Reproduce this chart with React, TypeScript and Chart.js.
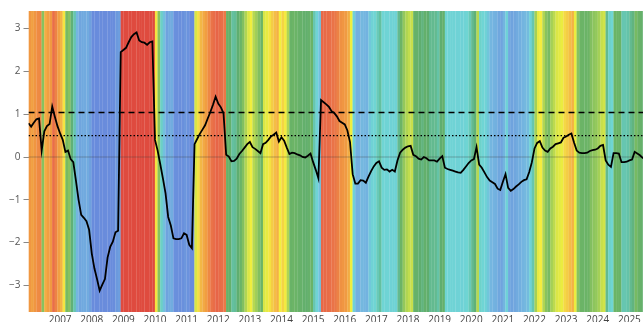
import React, { useEffect, useRef } from 'react';
import { Chart, registerables } from 'chart.js';

Chart.register(...registerables);

// Monthly series, starting January 2006
const START_YEAR = 2006;
const VALUES: number[] = [
  0.79, 0.71, 0.80, 0.88, 0.90, 0.15, 0.60, 0.72, 0.77, 1.18, 0.94, 0.72,
  0.55, 0.40, 0.12, 0.15, -0.05, -0.12, -0.55, -1.00, -1.35, -1.42, -1.50, -1.70,
  -2.25, -2.60, -2.85, -3.12, -2.98, -2.85, -2.35, -2.10, -1.98, -1.76, -1.72, 2.45,
  2.50, 2.55, 2.68, 2.80, 2.87, 2.91, 2.72, 2.68, 2.67, 2.62, 2.68, 2.70,
  0.40, 0.15, -0.17, -0.50, -0.85, -1.40, -1.60, -1.90, -1.92, -1.92, -1.90, -1.78,
  -1.82, -2.05, -2.13, 0.30, 0.42, 0.54, 0.64, 0.74, 0.90, 1.05, 1.22, 1.41,
  1.25, 1.16, 1.02, 0.05, 0.01, -0.10, -0.09, -0.04, 0.07, 0.14, 0.22, 0.30,
  0.35, 0.23, 0.19, 0.14, 0.09, 0.30, 0.33, 0.40, 0.48, 0.52, 0.57, 0.36,
  0.46, 0.38, 0.22, 0.07, 0.10, 0.09, 0.06, 0.04, 0.00, -0.01, 0.03, 0.08,
  -0.12, -0.30, -0.50, 1.33, 1.28, 1.23, 1.17, 1.07, 1.03, 0.95, 0.84, 0.80,
  0.76, 0.62, 0.35, -0.40, -0.62, -0.62, -0.54, -0.55, -0.60, -0.46, -0.33, -0.22,
  -0.14, -0.10, -0.25, -0.30, -0.29, -0.34, -0.30, -0.34, -0.08, 0.10, 0.17, 0.22,
  0.25, 0.26, 0.05, 0.02, -0.04, -0.06, 0.00, -0.03, -0.08, -0.08, -0.08, -0.11,
  -0.04, 0.02, -0.25, -0.28, -0.30, -0.32, -0.34, -0.36, -0.37, -0.30, -0.22, -0.14,
  -0.08, -0.05, 0.23, -0.18, -0.25, -0.36, -0.47, -0.55, -0.59, -0.63, -0.74, -0.77,
  -0.58, -0.40, -0.72, -0.79, -0.75, -0.69, -0.64, -0.58, -0.54, -0.52, -0.35, -0.12,
  0.20, 0.33, 0.37, 0.22, 0.15, 0.12, 0.20, 0.24, 0.30, 0.32, 0.34, 0.45,
  0.48, 0.52, 0.55, 0.34, 0.15, 0.10, 0.09, 0.09, 0.10, 0.14, 0.16, 0.17,
  0.20, 0.26, 0.28, -0.08, -0.18, -0.23, 0.09, 0.09, 0.08, -0.12, -0.12, -0.11,
  -0.08, -0.06, 0.12, 0.08, 0.04, -0.02, -0.05,
];

const Y_TICKS = [-3, -2, -1, 0, 1, 2, 3];
const YEAR_TICKS = [2007, 2008, 2009, 2010, 2011, 2012, 2013, 2014, 2015, 2016,
  2017, 2018, 2019, 2020, 2021, 2022, 2023, 2024, 2025];
const UPPER_LEVEL = 1.04;
const LOWER_LEVEL = 0.5;
const ZERO_LEVEL = 0;

const X_MIN = 2006;
const X_MAX = 2025.62;
const Y_MIN = -3.62;
const Y_MAX = 3.41;

// colour scale used for the monthly background bands (value -> colour)
const COLOR_STOPS: [number, string][] = [
  [-2.0, '#698cdc'],
  [-1.8, '#6b94dd'],
  [-1.6, '#71acdf'],
  [-0.8, '#6fa2de'],
  [-0.55, '#74b6e0'],
  [-0.42, '#6fd0d7'],
  [-0.2, '#6fd6d3'],
  [-0.12, '#66c6b0'],
  [-0.04, '#5fae6f'],
  [0.1, '#6cb466'],
  [0.17, '#93c85c'],
  [0.27, '#cde24a'],
  [0.36, '#f4ef3d'],
  [0.45, '#f5d845'],
  [0.55, '#f3b345'],
  [0.8, '#f09641'],
  [1.05, '#ea7448'],
  [1.4, '#e76548'],
  [2.2, '#df4b3f'],
];

function hexRgb(h: string): number[] {
  return [parseInt(h.slice(1, 3), 16), parseInt(h.slice(3, 5), 16), parseInt(h.slice(5, 7), 16)];
}

function bandColor(v: number): string {
  if (v <= COLOR_STOPS[0][0]) return COLOR_STOPS[0][1];
  const last = COLOR_STOPS[COLOR_STOPS.length - 1];
  if (v >= last[0]) return last[1];
  for (let i = 0; i < COLOR_STOPS.length - 1; i++) {
    const [a, ca] = COLOR_STOPS[i];
    const [b, cb] = COLOR_STOPS[i + 1];
    if (v >= a && v <= b) {
      const f = (v - a) / (b - a);
      const A = hexRgb(ca);
      const B = hexRgb(cb);
      const c = A.map((x, k) => Math.round(x + (B[k] - x) * f));
      return `rgb(${c[0]},${c[1]},${c[2]})`;
    }
  }
  return last[1];
}

const FONT = { family: '"Open Sans", sans-serif', size: 10 };

export default function App() {
  const ref = useRef<HTMLCanvasElement>(null);

  useEffect(() => {
    document.body.style.margin = '0';
    document.body.style.overflow = 'hidden';
    const times = VALUES.map((_, i) => START_YEAR + i / 12);
    const chart = new Chart(ref.current as HTMLCanvasElement, {
      data: {
        datasets: [
          {
            type: 'line',
            label: 'series',
            data: times.map((t, i) => ({ x: t, y: VALUES[i] })),
            borderColor: '#000',
            borderWidth: 1.8,
            pointRadius: 0,
            tension: 0,
            order: 0,
            yAxisID: 'y',
          },
          {
            type: 'line',
            label: 'upper',
            data: [{ x: X_MIN, y: UPPER_LEVEL }, { x: X_MAX, y: UPPER_LEVEL }],
            borderColor: '#000',
            borderWidth: 1.5,
            borderDash: [6, 4],
            pointRadius: 0,
            order: 1,
            yAxisID: 'y',
          },
          {
            type: 'line',
            label: 'lower',
            data: [{ x: X_MIN, y: LOWER_LEVEL }, { x: X_MAX, y: LOWER_LEVEL }],
            borderColor: '#000',
            borderWidth: 1.4,
            borderDash: [1.5, 2],
            pointRadius: 0,
            order: 2,
            yAxisID: 'y',
          },
          {
            type: 'line',
            label: 'zero',
            data: [{ x: X_MIN, y: ZERO_LEVEL }, { x: X_MAX, y: ZERO_LEVEL }],
            borderColor: 'rgba(60,60,60,0.35)',
            borderWidth: 1,
            pointRadius: 0,
            order: 3,
            yAxisID: 'y',
          },
          {
            type: 'bar',
            label: 'bands',
            data: times.map((t) => ({ x: t + 1 / 24, y: 1 })),
            backgroundColor: VALUES.map(bandColor),
            borderWidth: 0,
            barPercentage: 1.08,
            categoryPercentage: 1,
            order: 10,
            yAxisID: 'yb',
          },
        ],
      },
      options: {
        animation: false,
        responsive: false,
        devicePixelRatio: 1,
        layout: { padding: { top: 11, right: 11, left: 0, bottom: 0 } },
        plugins: { legend: { display: false }, tooltip: { enabled: false } },
        scales: {
          x: {
            type: 'linear',
            min: X_MIN,
            max: X_MAX,
            offset: false,
            grid: { display: false, drawTicks: false },
            border: { display: false },
            ticks: {
              autoSkip: false,
              maxRotation: 0,
              padding: 2,
              color: '#444',
              font: FONT,
              callback: (v: any) => String(v),
            },
            afterBuildTicks: (s: any) => {
              s.ticks = YEAR_TICKS.map((v) => ({ value: v }));
            },
            afterFit: (s: any) => {
              s.height = 18;
            },
          },
          y: {
            type: 'linear',
            min: Y_MIN,
            max: Y_MAX,
            grid: { drawOnChartArea: false, drawTicks: true, tickLength: 5, tickColor: '#888', tickWidth: 1 },
            border: { display: false },
            ticks: {
              color: '#555',
              padding: 3,
              font: FONT,
              callback: (v: any) => (v < 0 ? '\u2212' + Math.abs(v) : String(v)),
            },
            afterBuildTicks: (s: any) => {
              s.ticks = Y_TICKS.map((v) => ({ value: v }));
            },
            afterFit: (s: any) => {
              s.width = 28.5;
            },
          },
          yb: { type: 'linear', display: false, min: 0, max: 1 },
        },
      },
    } as any);
    return () => chart.destroy();
  }, []);

  return (
    <div style={{ position: 'fixed', left: 0, top: 0, width: 643, height: 322, overflow: 'hidden', background: '#fff' }}>
      <canvas ref={ref} width={660} height={330} style={{ display: 'block', width: 660, height: 330 }} />
    </div>
  );
}
